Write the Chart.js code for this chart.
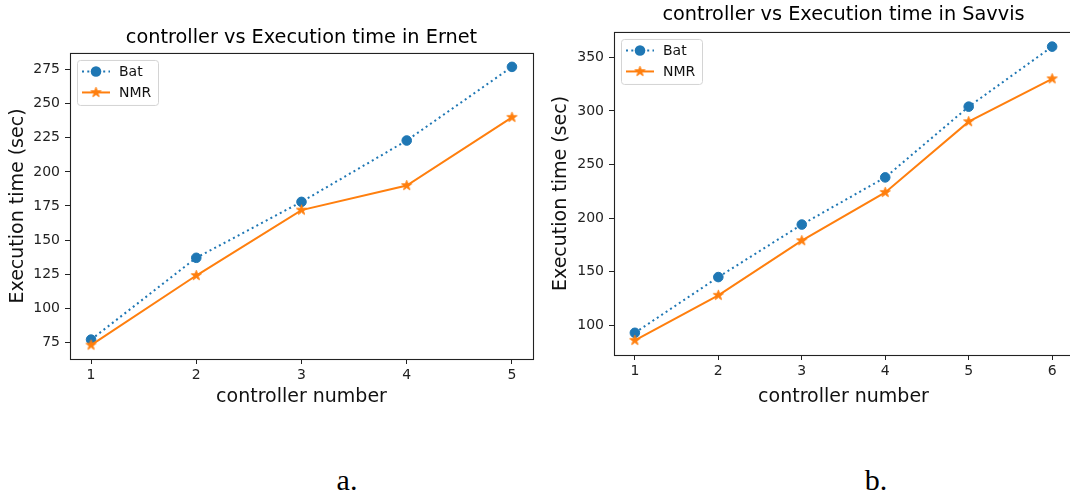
<!DOCTYPE html>
<html>
<head>
<meta charset="utf-8">
<script src="https://cdn.jsdelivr.net/npm/chart.js@4/dist/chart.umd.min.js"></script>
<style>
  html, body { margin: 0; padding: 0; background: #fff; overflow: hidden; }
  body { width: 1070px; height: 496px; position: relative; }
  canvas { position: absolute; top: 0; }
  #chartErnet { left: 0; }
  #chartSavvis { left: 540px; }
  .caption {
    position: absolute; top: 465px; width: 60px; text-align: center;
    font-family: 'Liberation Serif', 'Times New Roman', serif;
    font-size: 30px; line-height: 30px; color: #000;
  }
</style>
</head>
<body>
<canvas id="chartErnet" width="540" height="420"></canvas>
<canvas id="chartSavvis" width="540" height="420"></canvas>
<div class="caption" style="left:317px">a.</div>
<div class="caption" style="left:846px">b.</div>
<script>
// Ernet
const ernetControllers = [1, 2, 3, 4, 5];
const ernetBat = [77, 137, 178, 223, 277];
const ernetNmr = [73, 124, 172, 190, 240];
const ernetYTicks = [75, 100, 125, 150, 175, 200, 225, 250, 275];

// Savvis
const savvisControllers = [1, 2, 3, 4, 5, 6];
const savvisBat = [93, 145, 194, 238, 304, 360];
const savvisNmr = [86, 128, 179, 224, 290, 330];
const savvisYTicks = [100, 150, 200, 250, 300, 350];

const BLUE = '#1f77b4';
const ORANGE = '#ff7f0e';
const FONT = "'DejaVu Sans', sans-serif";

function starMarker(color, r) {
  const c = document.createElement('canvas');
  const s = Math.ceil(r * 2 + 4);
  c.width = s;
  c.height = s;
  const g = c.getContext('2d');
  g.translate(s / 2, s / 2);
  g.beginPath();
  for (let k = 0; k < 10; k++) {
    const rad = k % 2 ? r * 0.382 : r;
    const a = -Math.PI / 2 + (k * Math.PI) / 5;
    g.lineTo(rad * Math.cos(a), rad * Math.sin(a));
  }
  g.closePath();
  g.fillStyle = color;
  g.strokeStyle = color;
  g.lineWidth = 1;
  g.fill();
  g.stroke();
  return c;
}
const star = starMarker(ORANGE, 5.3);

// matplotlib-like 5% margins
function padRange(values, frac) {
  const lo = Math.min(...values);
  const hi = Math.max(...values);
  const m = (hi - lo) * frac;
  return [lo - m, hi + m];
}

// box around the whole plot area
const frame = {
  id: 'frame',
  afterDatasetsDraw(chart) {
    const { ctx, chartArea: a } = chart;
    ctx.save();
    ctx.strokeStyle = '#222';
    ctx.lineWidth = 1.1;
    ctx.strokeRect(a.left + 0.5, a.top + 0.5, a.right - a.left, a.bottom - a.top);
    ctx.restore();
  },
};

// legend inside the plot, upper left
const insideLegend = {
  id: 'insideLegend',
  afterDraw(chart) {
    const { ctx, chartArea } = chart;
    const x0 = chartArea.left + 7;
    const y0 = chartArea.top + 7;
    ctx.save();
    ctx.fillStyle = 'rgba(255,255,255,0.8)';
    ctx.strokeStyle = '#d4d4d4';
    ctx.lineWidth = 1;
    ctx.beginPath();
    ctx.roundRect(x0 + 0.5, y0 + 0.5, 81, 45, 3);
    ctx.fill();
    ctx.stroke();
    chart.data.datasets.forEach((ds, i) => {
      const y = y0 + 11.5 + i * 21;
      ctx.strokeStyle = ds.borderColor;
      ctx.lineWidth = ds.borderWidth;
      ctx.setLineDash(ds.borderDash || []);
      ctx.beginPath();
      ctx.moveTo(x0 + 5, y);
      ctx.lineTo(x0 + 33, y);
      ctx.stroke();
      ctx.setLineDash([]);
      if (ds.pointStyle === 'circle') {
        ctx.fillStyle = ds.pointBackgroundColor;
        ctx.beginPath();
        ctx.arc(x0 + 19, y, ds.pointRadius + 0.5, 0, Math.PI * 2);
        ctx.fill();
      } else {
        ctx.drawImage(ds.pointStyle, x0 + 19 - ds.pointStyle.width / 2, y - ds.pointStyle.height / 2);
      }
      ctx.fillStyle = '#111';
      ctx.font = '14px ' + FONT;
      ctx.textBaseline = 'middle';
      ctx.fillText(ds.label, x0 + 42, y + 0.5);
    });
    ctx.restore();
  },
};

function makeChart(id, cfg) {
  const [yMin, yMax] = padRange(cfg.bat.concat(cfg.nmr), 0.05);
  const [xMin, xMax] = padRange(cfg.controllers, 0.05);
  const pts = (arr) => arr.map((v, i) => ({ x: cfg.controllers[i], y: v }));
  return new Chart(document.getElementById(id), {
    type: 'line',
    data: {
      datasets: [
        {
          label: 'Bat',
          data: pts(cfg.bat),
          borderColor: BLUE,
          borderWidth: 2,
          borderDash: [2, 3.3],
          borderCapStyle: 'butt',
          pointStyle: 'circle',
          pointRadius: 4.8,
          pointBorderWidth: 1,
          pointBackgroundColor: BLUE,
          pointBorderColor: BLUE,
          order: 1,
        },
        {
          label: 'NMR',
          data: pts(cfg.nmr),
          borderColor: ORANGE,
          borderWidth: 2,
          pointStyle: star,
          pointRadius: 5,
          order: 0,
        },
      ],
    },
    options: {
      responsive: false,
      animation: false,
      layout: { padding: { left: 0, right: cfg.padRight, top: 0, bottom: 0 } },
      plugins: {
        legend: { display: false },
        tooltip: { enabled: false },
        title: {
          display: true,
          fullSize: false,
          text: cfg.title,
          color: '#000',
          font: { family: FONT, size: 19.3, weight: 'normal' },
          padding: { top: cfg.titleTop, bottom: cfg.titleBottom },
        },
      },
      scales: {
        x: {
          type: 'linear',
          min: xMin,
          max: xMax,
          afterBuildTicks: (s) => { s.ticks = cfg.controllers.map((v) => ({ value: v })); },
          afterFit: (s) => { s.height = 420 - cfg.plotBottom; },
          grid: { drawOnChartArea: false, tickLength: 5, color: '#222', tickWidth: 1 },
          border: { display: false },
          ticks: { color: '#222', padding: 3, font: { family: FONT, size: 14 }, maxRotation: 0 },
          title: {
            display: true,
            text: 'controller number',
            color: '#111',
            font: { family: FONT, size: 19 },
            padding: { top: 0, bottom: 12 },
          },
        },
        y: {
          min: yMin,
          max: yMax,
          afterBuildTicks: (s) => { s.ticks = cfg.yTicks.map((v) => ({ value: v })); },
          afterFit: (s) => { s.width = cfg.plotLeft; },
          grid: { drawOnChartArea: false, tickLength: 5, color: '#222', tickWidth: 1 },
          border: { display: false },
          ticks: { color: '#222', padding: 5, font: { family: FONT, size: 14 } },
          title: {
            display: true,
            text: 'Execution time (sec)',
            color: '#111',
            font: { family: FONT, size: 19 },
            padding: { top: cfg.yTitlePad, bottom: 0 },
          },
        },
      },
    },
    plugins: [frame, insideLegend],
  });
}

makeChart('chartErnet', {
  title: 'controller vs Execution time in Ernet',
  controllers: ernetControllers,
  bat: ernetBat,
  nmr: ernetNmr,
  yTicks: ernetYTicks,
  plotLeft: 70,
  plotBottom: 359,
  padRight: 7,
  titleTop: 26.4,
  titleBottom: 3.4,
  yTitlePad: 7,
});

makeChart('chartSavvis', {
  title: 'controller vs Execution time in Savvis',
  controllers: savvisControllers,
  bat: savvisBat,
  nmr: savvisNmr,
  yTicks: savvisYTicks,
  plotLeft: 74,
  plotBottom: 355,
  padRight: 4,
  titleTop: 3.4,
  titleBottom: 5.4,
  yTitlePad: 10,
});
</script>
</body>
</html>
